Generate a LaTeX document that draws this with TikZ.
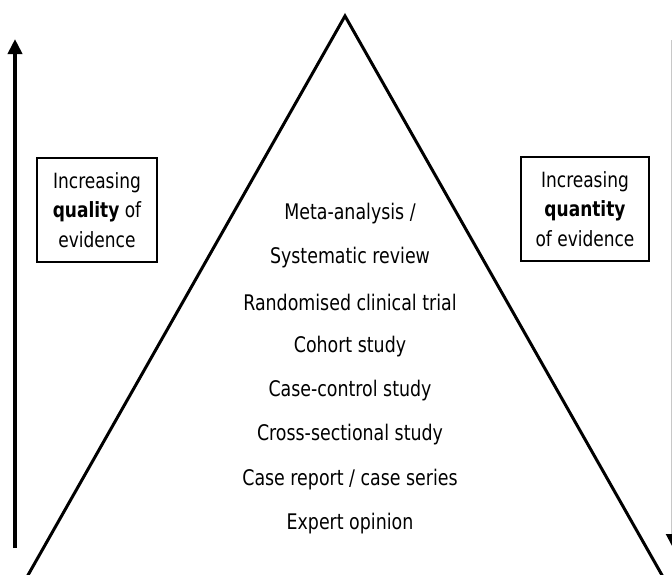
\documentclass[tikz,border=0pt]{standalone}
\usepackage{fontspec}
\setmainfont{DejaVu Sans Condensed}[FakeStretch=0.9]
\usetikzlibrary{arrows.meta}
\definecolor{arrowgrey}{RGB}{200,200,200}

\begin{document}
\begin{tikzpicture}[x=1pt,y=-1pt,
  level/.style={font=\fontsize{21.5}{24}\selectfont,inner sep=0pt},
  sidebox/.style={draw,line width=1.5pt,minimum width=120pt,minimum height=104pt,
    align=center,font=\fontsize{21}{29.5}\selectfont}]
\useasboundingbox (0,0) rectangle (672,574);
% pyramid
\coordinate (apex) at (345,16);
\coordinate (baseleft) at (19,591);
\coordinate (baseright) at (671,591);
\draw[line width=3pt,line join=miter] (baseleft) -- (apex) -- (baseright);
% arrows at the sides
\coordinate (qualitylow) at (15,548);
\coordinate (qualityhigh) at (15,39);
\draw[line width=4pt,-{Triangle[length=15pt,width=14pt]}] (qualitylow) -- (qualityhigh);
\coordinate (quantitytop) at (672,40);
\coordinate (quantitybottom) at (672,546);
\draw[arrowgrey,line width=2pt,-{Triangle[length=12pt,width=12pt,black]}] (quantitytop) -- (quantitybottom);
% boxes
\node[sidebox] (quality) at (97,210) {Increasing\\ \textbf{quality} of\\ evidence};
\node[sidebox,minimum width=128pt] (quantity) at (585,209) {Increasing\\ \textbf{quantity}\\ of evidence};
% levels of evidence
\node[level] (meta) at (350,214) {Meta-analysis /};
\node[level] (review) at (350,258) {Systematic review};
\node[level] (rct) at (350,302) {Randomised clinical trial};
\node[level] (cohort) at (350,347) {Cohort study};
\node[level] (casecontrol) at (350,391) {Case-control study};
\node[level] (crosssectional) at (350,435) {Cross-sectional study};
\node[level] (casereport) at (350,480) {Case report / case series};
\node[level] (expert) at (350,524) {Expert opinion};
\end{tikzpicture}
\end{document}
